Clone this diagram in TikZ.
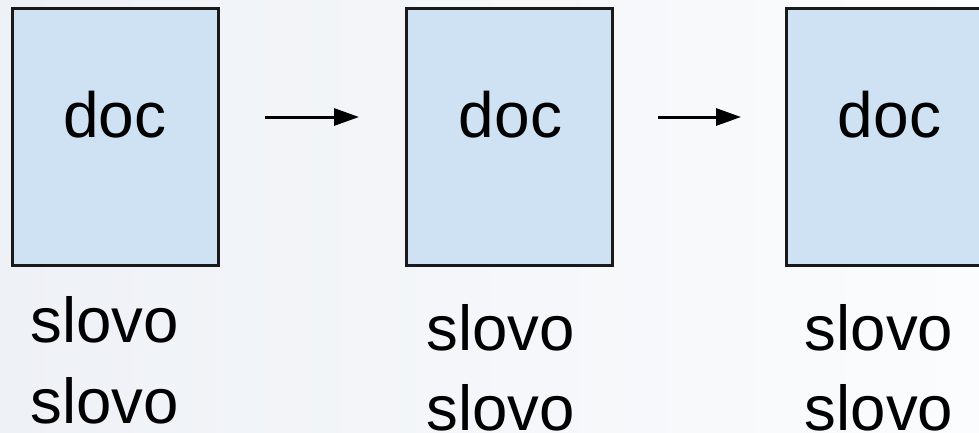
\documentclass[tikz,border=0pt]{standalone}
\usepackage{fontspec}
\setmainfont{Liberation Sans}
\usetikzlibrary{arrows.meta}
\definecolor{boxfill}{HTML}{CFE2F3}
\definecolor{bgA}{HTML}{EEF1F6}
\definecolor{bgB}{HTML}{FBFCFD}
\begin{document}
\begin{tikzpicture}[x=1pt,y=-1pt,
  docbox/.style={draw=black!90, line width=3pt, fill=boxfill, minimum width=206pt, minimum height=257pt, inner sep=0pt, anchor=center},
  doclabel/.style={font=\fontsize{64}{72}\selectfont, anchor=base, inner sep=0pt},
  wordlabel/.style={font=\fontsize{63.5}{72}\selectfont, anchor=base, inner sep=0pt},
  arr/.style={line width=3pt, -{Triangle[length=25pt,width=17pt]}}]
\useasboundingbox (0,0) rectangle (979,432);
\shade[left color=bgA, right color=bgB] (0,0) rectangle (979,432);
\begin{scope}
\clip (0,0) rectangle (979,432);
\node[docbox] (b1) at (115,136.5) {};
\node[docbox] (b2) at (509.5,136.5) {};
\node[docbox] (b3) at (889.5,136.5) {};
\end{scope}
\node[doclabel] (d1) at (115,137) {doc};
\node[doclabel] (d2) at (510.5,137) {doc};
\node[doclabel] (d3) at (889.5,137) {doc};
\node[wordlabel] (s1a) at (104.5,342) {slovo};
\node[wordlabel] (s1b) at (104.5,423) {slovo};
\node[wordlabel] (s2a) at (500.5,350) {slovo};
\node[wordlabel] (s2b) at (500.5,430) {slovo};
\node[wordlabel] (s3a) at (879,350) {slovo};
\node[wordlabel] (s3b) at (879,430) {slovo};
\draw[arr, shorten <=45pt, shorten >=46pt] ([yshift=19.5pt]b1.east) -- ([yshift=19.5pt]b2.west);
\draw[arr, shorten <=44pt, shorten >=44pt] ([yshift=19.5pt]b2.east) -- ([yshift=19.5pt]b3.west);
\end{tikzpicture}
\end{document}
